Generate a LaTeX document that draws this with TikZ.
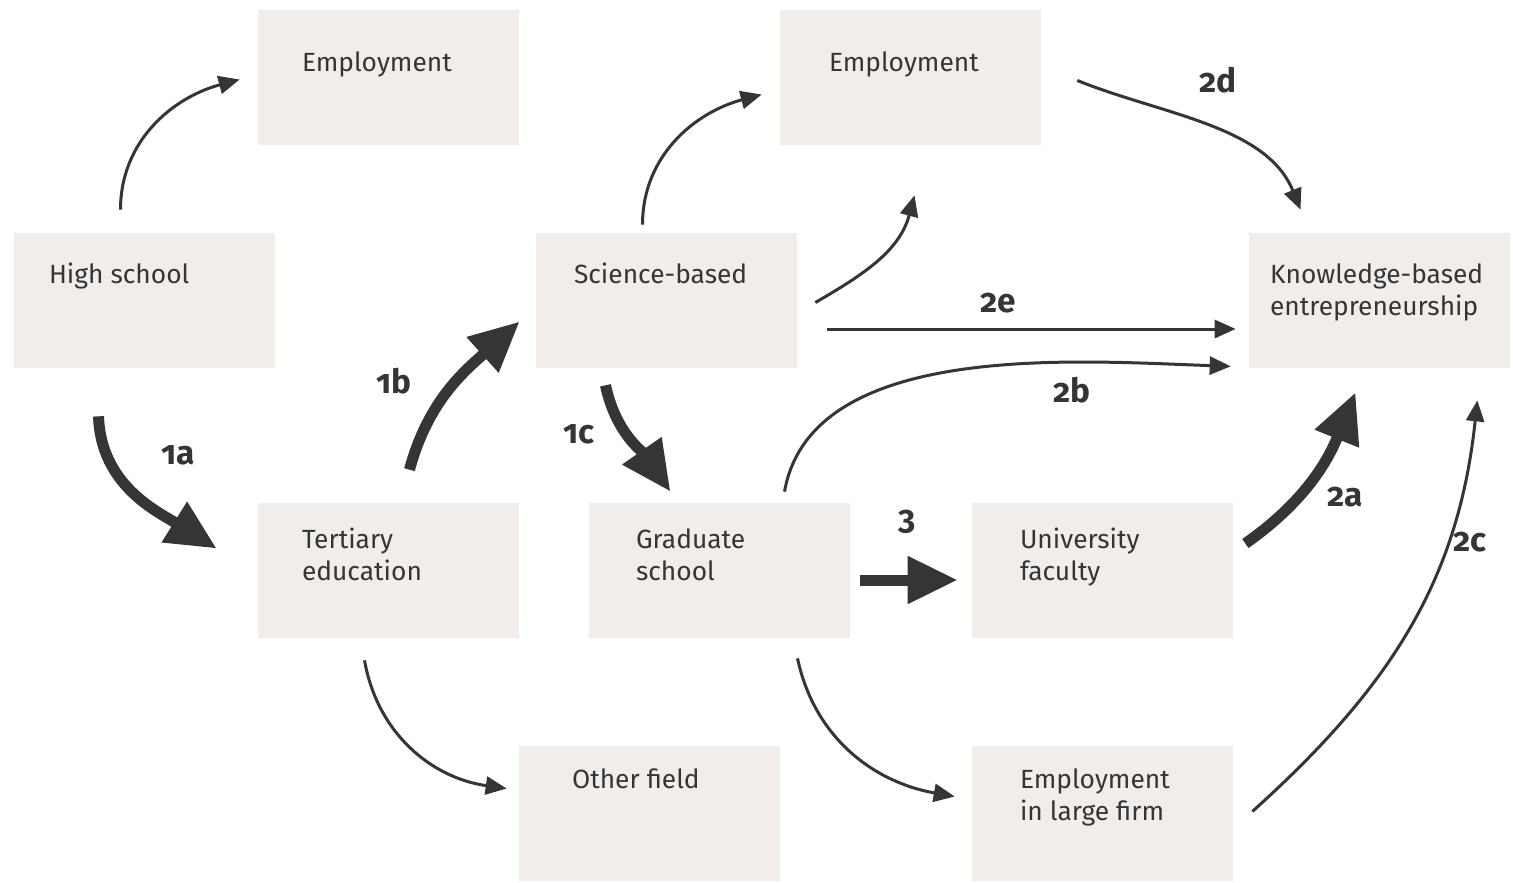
\documentclass[tikz,border=0pt]{standalone}
\usepackage{fontspec}
\setmainfont{Fira Sans}
\newfontfamily\lblfont[Numbers=OldStyle]{Fira Sans}
\usetikzlibrary{arrows.meta,calc}
\definecolor{boxfill}{HTML}{F1EDEA}
\definecolor{ink}{HTML}{353535}

\begin{document}
\begin{tikzpicture}[x=0.02cm,y=-0.02cm,
    box/.style={rectangle,fill=boxfill,minimum width=5.22cm,minimum height=2.7cm,inner sep=0pt},
    txt/.style={anchor=base west,inner sep=0pt,align=left,text=ink,font=\fontsize{15}{18.2}\selectfont},
    num/.style={text=ink,inner sep=0pt,font=\lblfont\bfseries\fontsize{19}{19}\selectfont},
    thin arrow/.style={draw=ink,line width=0.06cm,-{Triangle[length=0.42cm,width=0.36cm]}},
    thick arrow/.style={draw=ink,line width=0.22cm,-{Triangle[length=1cm,width=0.9cm]}}]
    \useasboundingbox (0,0) rectangle (1513,882);

    % boxes
    \node[box] (emp1) at (388.5,77.5) {};
    \node[box] (hs) at (144.5,300.5) {};
    \node[box] (emp2) at (910.5,77.5) {};
    \node[box] (sci) at (666.5,300.5) {};
    \node[box] (kb) at (1379.5,300.5) {};
    \node[box] (ter) at (388.5,570.5) {};
    \node[box] (grad) at (719.5,570.5) {};
    \node[box] (uni) at (1102.5,570.5) {};
    \node[box] (oth) at (649.5,813.5) {};
    \node[box] (lf) at (1102.5,813.5) {};

    % box texts (base = last line)
    \node[txt] (emp1-t) at ($(emp1.north west)+(44,62)$) {Employment};
    \node[txt] (hs-t) at ($(hs.north west)+(35,51)$) {High school};
    \node[txt] (emp2-t) at ($(emp2.north west)+(49,62)$) {Employment};
    \node[txt] (sci-t) at ($(sci.north west)+(38,51)$) {Science-based};
    \node[txt] (kb-t) at ($(kb.north west)+(21,83)$) {Knowledge-based\\entrepreneurship};
    \node[txt] (ter-t) at ($(ter.north west)+(44,78)$) {Tertiary\\education};
    \node[txt] (grad-t) at ($(grad.north west)+(47,78)$) {Graduate\\school};
    \node[txt] (uni-t) at ($(uni.north west)+(48,78)$) {University\\faculty};
    \node[txt] (oth-t) at ($(oth.north west)+(53,43)$) {Other field};
    \node[txt] (lf-t) at ($(lf.north west)+(48,75)$) {Employment\\in large firm};

    % thin paths
    \path[every edge/.append style={thin arrow}]
        ($(hs.north)+(-24,-23)$) edge[out=90,in=195] ($(emp1.west)+(-18,2)$)
        ($(sci.north)+(-24,-8)$) edge[out=90,in=195] ($(emp2.west)+(-18,17)$)
        ($(sci.east)+(18,2)$) edge[out=30,in=-105] ($(emp2.south)+(4,50)$)
        ($(emp2.east)+(36,3)$) edge[out=-22,in=112,looseness=0.9] ($(kb.north)+(-79,-23)$)
        ($(sci.east)+(30,28.5)$) edge ($(kb.west)+(-13,28.5)$)
        ($(grad.north)+(65,-11)$) edge[out=80,in=178,looseness=0.85] ($(kb.south west)+(-18,-2)$)
        ($(lf.east)+(19,-2)$) edge[out=42,in=-96] ($(kb.south east)+(-33,32)$)
        ($(ter.south)+(-24,22)$) edge[out=-80,in=172] ($(oth.west)+(-12,-25)$)
        ($(grad.south)+(78,20)$) edge[out=-78,in=170] ($(lf.west)+(-17,-17)$);

    % thick paths
    \path[every edge/.append style={thick arrow}]
        ($(hs.south)+(-46,48)$) edge[out=-88,in=148] ($(ter.west)+(-41,-22)$)
        ($(ter.north)+(21,-33)$) edge[out=75,in=222] ($(sci.west)+(-16,21)$)
        ($(sci.south)+(-61,17)$) edge[out=-78,in=125] ($(grad.north)+(-49,-11)$)
        ($(grad.east)+(10,9.5)$) edge ($(uni.west)+(-14,9.5)$)
        ($(uni.east)+(12,-27)$) edge[out=35,in=-112] ($(kb.south)+(-24,24)$);

    % labels
    \node[num] (l1a) at (178,455) {1a};
    \node[num] (l1b) at (394,381) {1b};
    \node[num] (l1c) at (579,434) {1c};
    \node[num] (l2d) at (1218,80) {2d};
    \node[num] (l2e) at (998,303) {2e};
    \node[num] (l2b) at (1072,390) {2b};
    \node[num] (l3) at (907,522) {3};
    \node[num] (l2a) at (1345,497) {2a};
    \node[num] (l2c) at (1470,542) {2c};
\end{tikzpicture}
\end{document}
